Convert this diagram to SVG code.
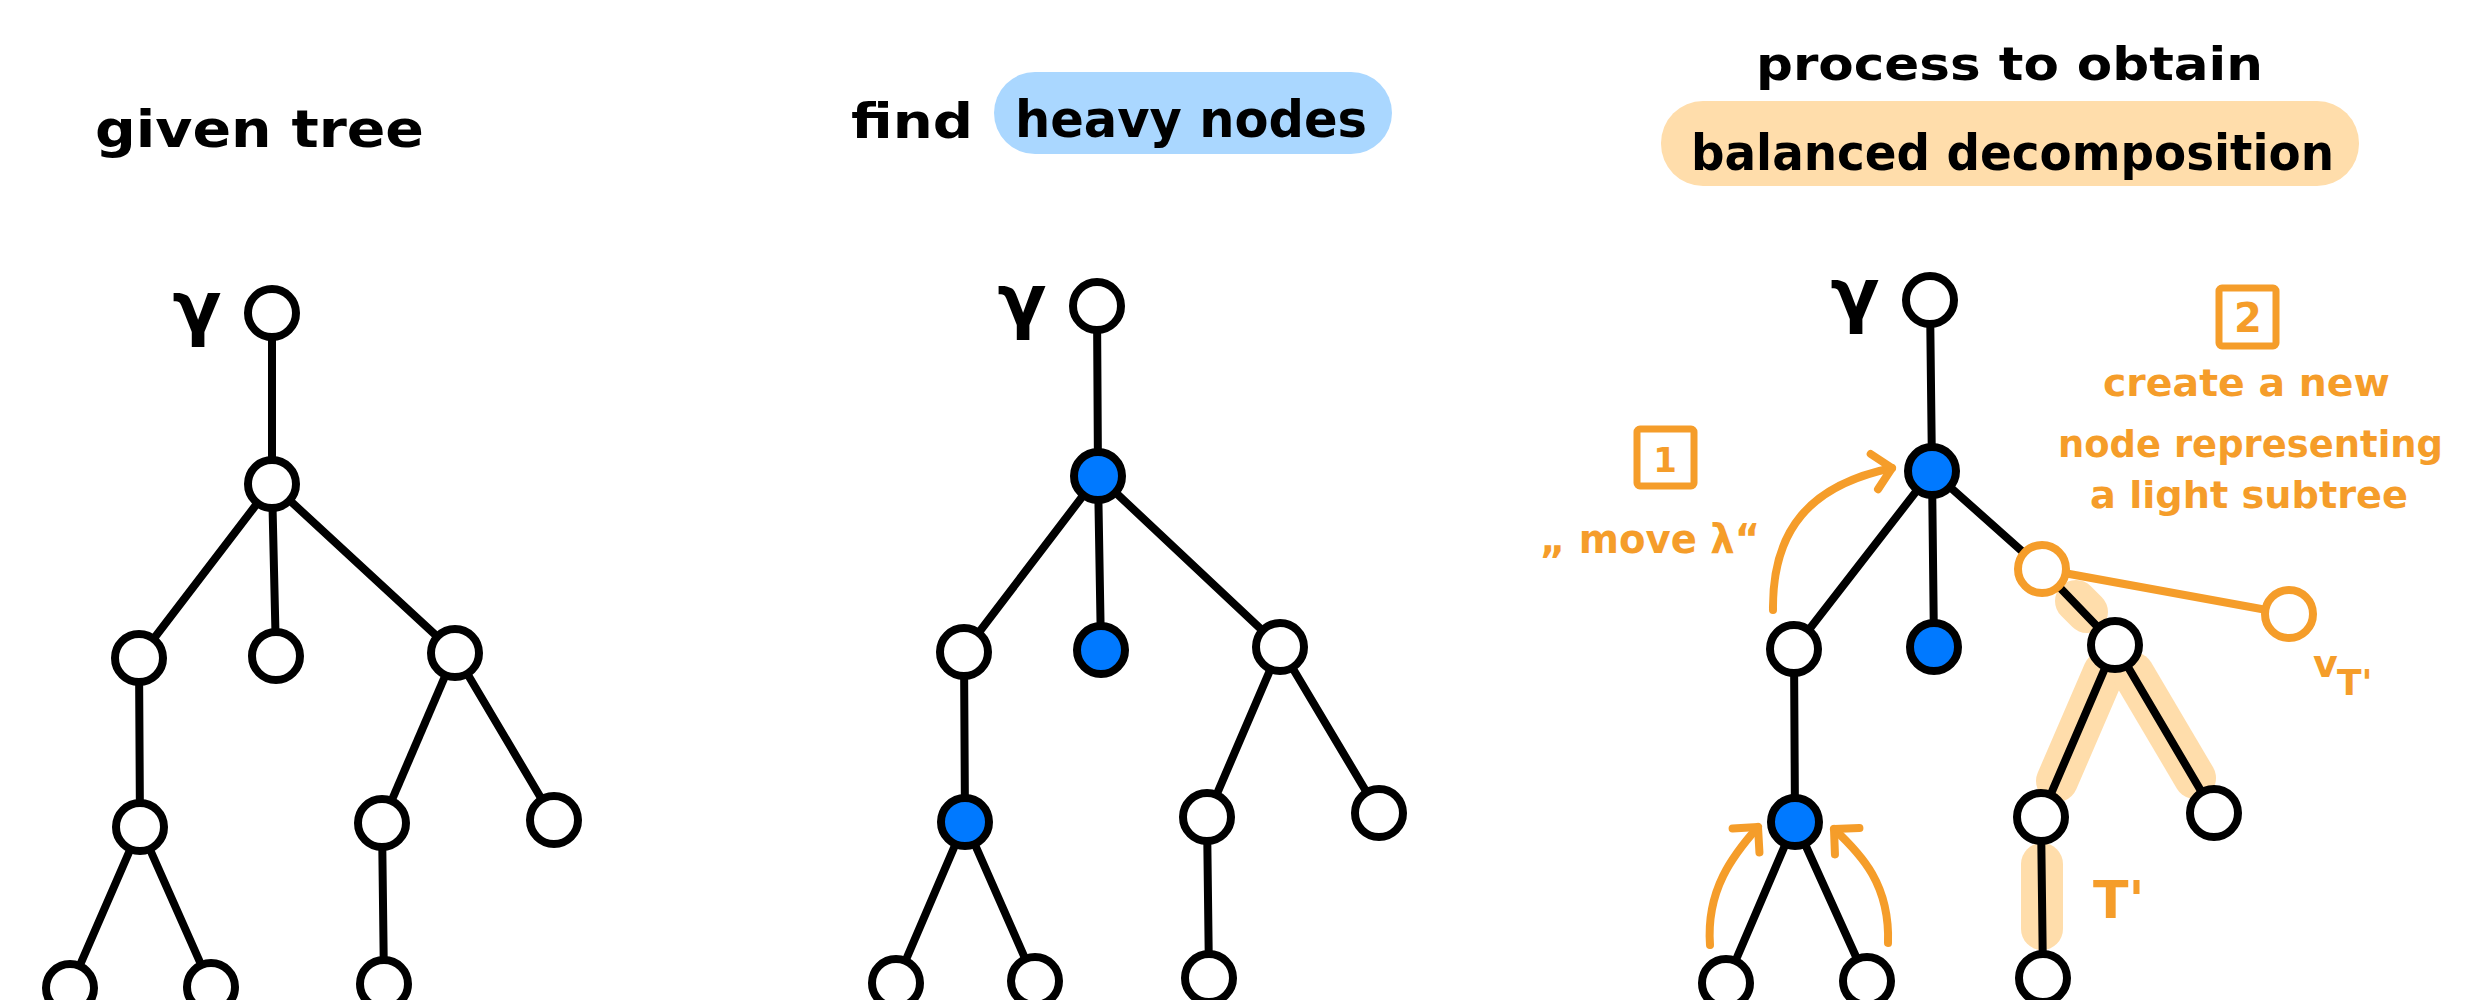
<svg xmlns="http://www.w3.org/2000/svg" width="2492" height="1000" viewBox="0 0 2492 1000">
<defs>
<style>
.hand{font-family:"DejaVu Sans","Liberation Sans",sans-serif;font-weight:bold;}
.blk{fill:#000;}
.org{fill:#F59D2A;}
.edge{stroke:#000;stroke-width:8;stroke-linecap:round;fill:none;}
.oedge{stroke:#F59D2A;stroke-width:8;stroke-linecap:round;fill:none;}
.hl{stroke:#FFDDAB;stroke-width:42;stroke-linecap:round;fill:none;}
.node{fill:#fff;stroke:#000;stroke-width:8;}
.heavy{fill:#0079FF;stroke:#000;stroke-width:8;}
.onode{fill:#fff;stroke:#F59D2A;stroke-width:8;}
.box{fill:none;stroke:#F59D2A;stroke-width:7;stroke-linejoin:round;}
.arrow{stroke:#F59D2A;stroke-width:8;stroke-linecap:round;fill:none;marker-end:url(#chev);}
</style>
<marker id="chev" viewBox="-30 -30 40 60" markerUnits="userSpaceOnUse" markerWidth="40" markerHeight="60" refX="0" refY="0" orient="auto" overflow="visible">
<path d="M-18,-18 L0,0 L-18,18" fill="none" stroke="#F59D2A" stroke-width="8" stroke-linecap="round" stroke-linejoin="round"/>
</marker>
</defs>
<rect width="2492" height="1000" fill="#fff"/>

<!-- titles -->
<g id="title1"><text class="hand blk" x="95" y="147" font-size="52" textLength="329" lengthAdjust="spacingAndGlyphs">given tree</text></g>
<g id="title2">
<rect x="994" y="72" width="398" height="82" rx="41" fill="#AAD7FF"/>
<text class="hand blk" x="851" y="138" font-size="48" textLength="122" lengthAdjust="spacingAndGlyphs">find</text>
<text class="hand blk" x="1015" y="137" font-size="52" textLength="352" lengthAdjust="spacingAndGlyphs">heavy nodes</text>
</g>
<g id="title3">
<text class="hand blk" x="1756" y="80" font-size="46" textLength="507" lengthAdjust="spacingAndGlyphs">process to obtain</text>
<rect x="1661" y="101" width="698" height="85" rx="42" fill="#FFDDAB"/>
<text class="hand blk" x="1691" y="170" font-size="50" textLength="643" lengthAdjust="spacingAndGlyphs">balanced decomposition</text>
</g>

<!-- root labels -->
<g id="labels">
<text class="hand blk" x="197" y="332" font-size="72" text-anchor="middle">γ</text>
<text class="hand blk" x="1022" y="325" font-size="72" text-anchor="middle">γ</text>
<text class="hand blk" x="1855" y="319" font-size="72" text-anchor="middle">γ</text>
</g>

<!-- highlights -->
<g id="highlights">
<line class="hl" x1="2076" y1="601" x2="2087" y2="612"/>
<line class="hl" x1="2104" y1="672" x2="2057" y2="781"/>
<line class="hl" x1="2133" y1="673" x2="2195" y2="778"/>
<line class="hl" x1="2042" y1="864" x2="2042" y2="929"/>
</g>

<!-- connectors -->
<g id="connectors">
<line class="edge" x1="272" y1="313" x2="272" y2="484"/>
<line class="edge" x1="272" y1="484" x2="139" y2="658"/>
<line class="edge" x1="272" y1="484" x2="276" y2="656"/>
<line class="edge" x1="272" y1="484" x2="455" y2="653"/>
<line class="edge" x1="139" y1="658" x2="140" y2="827"/>
<line class="edge" x1="455" y1="653" x2="382" y2="823"/>
<line class="edge" x1="455" y1="653" x2="554" y2="820"/>
<line class="edge" x1="140" y1="827" x2="70" y2="988"/>
<line class="edge" x1="140" y1="827" x2="211" y2="987"/>
<line class="edge" x1="382" y1="823" x2="384" y2="984"/>

<line class="edge" x1="1097" y1="306" x2="1098" y2="476"/>
<line class="edge" x1="1098" y1="476" x2="964" y2="652"/>
<line class="edge" x1="1098" y1="476" x2="1101" y2="650"/>
<line class="edge" x1="1098" y1="476" x2="1280" y2="647"/>
<line class="edge" x1="964" y1="652" x2="965" y2="822"/>
<line class="edge" x1="1280" y1="647" x2="1207" y2="817"/>
<line class="edge" x1="1280" y1="647" x2="1379" y2="813"/>
<line class="edge" x1="965" y1="822" x2="896" y2="983"/>
<line class="edge" x1="965" y1="822" x2="1035" y2="981"/>
<line class="edge" x1="1207" y1="817" x2="1209" y2="978"/>

<line class="edge" x1="1930" y1="300" x2="1932" y2="471"/>
<line class="edge" x1="1932" y1="471" x2="1794" y2="649"/>
<line class="edge" x1="1932" y1="471" x2="1934" y2="647"/>
<line class="edge" x1="1932" y1="471" x2="2042" y2="569"/>
<line class="edge" x1="2042" y1="569" x2="2115" y2="645"/>
<line class="oedge" x1="2042" y1="569" x2="2289" y2="614"/>
<line class="edge" x1="1794" y1="649" x2="1795" y2="822"/>
<line class="edge" x1="2115" y1="645" x2="2041" y2="817"/>
<line class="edge" x1="2115" y1="645" x2="2214" y2="813"/>
<line class="edge" x1="1795" y1="822" x2="1726" y2="983"/>
<line class="edge" x1="1795" y1="822" x2="1867" y2="981"/>
<line class="edge" x1="2041" y1="817" x2="2043" y2="978"/>

<path class="arrow" d="M1773,610 C1772,530 1810,485 1892,468"/>
<path class="arrow" d="M1710,945 C1706,890 1733,855 1758,827"/>
<path class="arrow" d="M1888,943 C1890,885 1862,855 1834,829"/>
</g>

<!-- tree 1 nodes -->
<g id="t1-root"><circle class="node" cx="272" cy="313" r="24"/></g>
<g id="t1-n1"><circle class="node" cx="272" cy="484" r="24"/></g>
<g id="t1-a"><circle class="node" cx="139" cy="658" r="24"/></g>
<g id="t1-b"><circle class="node" cx="276" cy="656" r="24"/></g>
<g id="t1-c"><circle class="node" cx="455" cy="653" r="24"/></g>
<g id="t1-a1"><circle class="node" cx="140" cy="827" r="24"/></g>
<g id="t1-c1"><circle class="node" cx="382" cy="823" r="24"/></g>
<g id="t1-c2"><circle class="node" cx="554" cy="820" r="24"/></g>
<g id="t1-a1l"><circle class="node" cx="70" cy="988" r="24"/></g>
<g id="t1-a1r"><circle class="node" cx="211" cy="987" r="24"/></g>
<g id="t1-c1a"><circle class="node" cx="384" cy="984" r="24"/></g>

<!-- tree 2 nodes -->
<g id="t2-root"><circle class="node" cx="1097" cy="306" r="24"/></g>
<g id="t2-n1"><circle class="heavy" cx="1098" cy="476" r="24"/></g>
<g id="t2-a"><circle class="node" cx="964" cy="652" r="24"/></g>
<g id="t2-b"><circle class="heavy" cx="1101" cy="650" r="24"/></g>
<g id="t2-c"><circle class="node" cx="1280" cy="647" r="24"/></g>
<g id="t2-a1"><circle class="heavy" cx="965" cy="822" r="24"/></g>
<g id="t2-c1"><circle class="node" cx="1207" cy="817" r="24"/></g>
<g id="t2-c2"><circle class="node" cx="1379" cy="813" r="24"/></g>
<g id="t2-a1l"><circle class="node" cx="896" cy="983" r="24"/></g>
<g id="t2-a1r"><circle class="node" cx="1035" cy="981" r="24"/></g>
<g id="t2-c1a"><circle class="node" cx="1209" cy="978" r="24"/></g>

<!-- tree 3 nodes -->
<g id="t3-root"><circle class="node" cx="1930" cy="300" r="24"/></g>
<g id="t3-n1"><circle class="heavy" cx="1932" cy="471" r="24"/></g>
<g id="t3-a"><circle class="node" cx="1794" cy="649" r="24"/></g>
<g id="t3-b"><circle class="heavy" cx="1934" cy="647" r="24"/></g>
<g id="t3-v"><circle class="onode" cx="2042" cy="569" r="24"/></g>
<g id="t3-c"><circle class="node" cx="2115" cy="645" r="24"/></g>
<g id="t3-vt"><circle class="onode" cx="2289" cy="614" r="24"/></g>
<g id="t3-a1"><circle class="heavy" cx="1795" cy="822" r="24"/></g>
<g id="t3-c1"><circle class="node" cx="2041" cy="817" r="24"/></g>
<g id="t3-c2"><circle class="node" cx="2214" cy="813" r="24"/></g>
<g id="t3-a1l"><circle class="node" cx="1726" cy="983" r="24"/></g>
<g id="t3-a1r"><circle class="node" cx="1867" cy="981" r="24"/></g>
<g id="t3-c1a"><circle class="node" cx="2043" cy="978" r="24"/></g>

<!-- annotations -->
<g id="step1">
<rect class="box" x="1637" y="429" width="57" height="57" rx="3"/>
<text class="hand org" x="1665" y="472" font-size="34" text-anchor="middle">1</text>
<text class="hand org" x="1540" y="553" font-size="40" textLength="220" lengthAdjust="spacingAndGlyphs">„ move λ“</text>
</g>
<g id="step2">
<rect class="box" x="2219" y="288" width="57" height="58" rx="3"/>
<text class="hand org" x="2248" y="332" font-size="40" text-anchor="middle">2</text>
<text class="hand org" x="2103" y="396" font-size="38" textLength="287" lengthAdjust="spacingAndGlyphs">create a new</text>
<text class="hand org" x="2058" y="457" font-size="38" textLength="385" lengthAdjust="spacingAndGlyphs">node representing</text>
<text class="hand org" x="2090" y="508" font-size="38" textLength="318" lengthAdjust="spacingAndGlyphs">a light subtree</text>
</g>
<g id="vt-label">
<text class="hand org" x="2313" y="677" font-size="38">v</text>
<text class="hand org" x="2337" y="695" font-size="36">T'</text>
</g>
<g id="tprime-label"><text class="hand org" x="2093" y="918" font-size="52">T'</text></g>
</svg>
